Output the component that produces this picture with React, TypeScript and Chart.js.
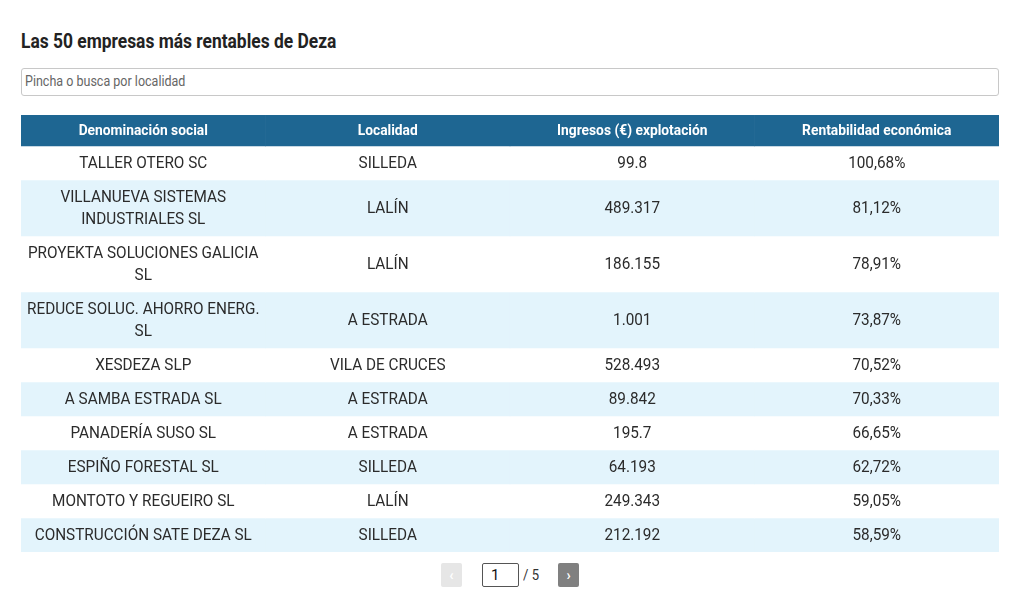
import React, { useEffect, useRef } from "react";
import { Chart, registerables } from "chart.js";

Chart.register(...registerables);

const TITLE = "Las 50 empresas más rentables de Deza";
const PLACEHOLDER = "Pincha o busca por localidad";
const COLUMNS = ["Denominación social", "Localidad", "Ingresos (€) explotación", "Rentabilidad económica"];
const EMPRESAS = [
  "TALLER OTERO SC",
  "VILLANUEVA SISTEMAS INDUSTRIALES SL",
  "PROYEKTA SOLUCIONES GALICIA SL",
  "REDUCE SOLUC. AHORRO ENERG. SL",
  "XESDEZA SLP",
  "A SAMBA ESTRADA SL",
  "PANADERÍA SUSO SL",
  "ESPIÑO FORESTAL SL",
  "MONTOTO Y REGUEIRO SL",
  "CONSTRUCCIÓN SATE DEZA SL",
];
const LOCALIDADES = ["SILLEDA", "LALÍN", "LALÍN", "A ESTRADA", "VILA DE CRUCES", "A ESTRADA", "A ESTRADA", "SILLEDA", "LALÍN", "SILLEDA"];
const INGRESOS = ["99.8", "489.317", "186.155", "1.001", "528.493", "89.842", "195.7", "64.193", "249.343", "212.192"];
const RENTABILIDAD = [100.68, 81.12, 78.91, 73.87, 70.52, 70.33, 66.65, 62.72, 59.05, 58.59];
const PAGE = 1;
const PAGES = 5;

const HEADER_BG = "#1e6692";
const ROW_ALT = "#e3f4fc";
const ROW_BG = "#ffffff";
const TEXT = "#2b2b2b";
const SQUEEZE = 0.87;
const BODY_SQUEEZE = 0.9;
const HEAD_SQUEEZE = 0.92;
const BODY_FONT = "17px Roboto";
const HEAD_FONT = "bold 15px Roboto";
const LINE_H = 22;
const CELL_PAD = 12;
const HEAD_H = 31;
const CELL_MAX_W = 238;
const TEXT_NUDGE = 1;

const fmtPct = (v: number) => v.toFixed(2).replace(".", ",") + "%";

function wrap(ctx: CanvasRenderingContext2D, text: string, font: string, sq: number): string[] {
  ctx.font = font;
  const words = text.split(" ");
  const lines: string[] = [];
  let cur = "";
  for (const w of words) {
    const test = cur ? cur + " " + w : w;
    if (cur && ctx.measureText(test).width * sq > CELL_MAX_W) {
      lines.push(cur);
      cur = w;
    } else cur = test;
  }
  if (cur) lines.push(cur);
  return lines;
}

export default function App() {
  const ref = useRef<HTMLCanvasElement | null>(null);

  useEffect(() => {
    if (!ref.current) return;
    const mctx = document.createElement("canvas").getContext("2d")!;
    const rows: string[][] = EMPRESAS.map((e, i) => [e, LOCALIDADES[i], INGRESOS[i], fmtPct(RENTABILIDAD[i])]);
    const cellLines: string[][][] = [COLUMNS.map((c) => wrap(mctx, c, HEAD_FONT, HEAD_SQUEEZE))].concat(
      rows.map((r) => r.map((c) => wrap(mctx, c, BODY_FONT, BODY_SQUEEZE)))
    );
    const heights = cellLines.map((r, i) =>
      i === 0 ? HEAD_H : Math.max(...r.map((l) => l.length)) * LINE_H + CELL_PAD
    );
    const total = heights.reduce((a, b) => a + b, 0);

    const textPlugin = {
      id: "cellText",
      afterDatasetsDraw(chart: any) {
        const ctx = chart.ctx as CanvasRenderingContext2D;
        chart.data.datasets.forEach((_: any, i: number) => {
          const meta = chart.getDatasetMeta(i);
          meta.data.forEach((el: any, c: number) => {
            const { x, y, base } = el.getProps(["x", "y", "base"], true);
            const cy = (y + base) / 2 + TEXT_NUDGE;
            const lines = cellLines[i][c];
            const sq = i === 0 ? HEAD_SQUEEZE : BODY_SQUEEZE;
            ctx.save();
            ctx.font = i === 0 ? HEAD_FONT : BODY_FONT;
            ctx.fillStyle = i === 0 ? "#ffffff" : TEXT;
            ctx.textAlign = "center";
            ctx.textBaseline = "middle";
            lines.forEach((ln, k) => {
              const ly = cy + (k - (lines.length - 1) / 2) * LINE_H;
              ctx.save();
              ctx.translate(x, ly);
              ctx.scale(sq, 1);
              ctx.fillText(ln, 0, 0);
              ctx.restore();
            });
            ctx.restore();
          });
        });
      },
    };

    const chart = new Chart(ref.current, {
      type: "bar",
      data: {
        labels: COLUMNS,
        datasets: heights.map((h, i) => ({
          label: i === 0 ? "header" : EMPRESAS[i - 1],
          data: COLUMNS.map(() => h),
          backgroundColor: i === 0 ? HEADER_BG : i % 2 === 0 ? ROW_ALT : ROW_BG,
          borderWidth: 0,
          barPercentage: 1,
          categoryPercentage: 1,
          stack: "table",
        })),
      },
      options: {
        animation: false,
        responsive: true,
        maintainAspectRatio: false,
        layout: { padding: 0 },
        events: [],
        scales: {
          x: { display: false, stacked: true },
          y: { display: false, stacked: true, reverse: true, min: 0, max: total },
        },
        plugins: { legend: { display: false }, tooltip: { enabled: false } },
      },
      plugins: [textPlugin],
    });
    return () => chart.destroy();
  }, []);

  const squeeze: React.CSSProperties = {
    display: "inline-block",
    transform: `scaleX(${SQUEEZE})`,
    transformOrigin: "left center",
    whiteSpace: "nowrap",
  };

  return (
    <div style={{ position: "relative", width: 1004, height: 590, fontFamily: "Roboto", color: TEXT }}>
      <div style={{ position: "absolute", left: 13, top: 21, height: 24, lineHeight: "24px", fontSize: 20, fontWeight: 700, color: "#222" }}>
        <span style={squeeze}>{TITLE}</span>
      </div>
      <div
        style={{
          position: "absolute",
          left: 13,
          top: 60,
          width: 978,
          height: 28,
          boxSizing: "border-box",
          border: "1px solid #c8c8c8",
          borderRadius: 3,
          lineHeight: "26px",
          fontSize: 14.4,
          color: "#666",
          paddingLeft: 3,
          overflow: "hidden",
        }}
      >
        <span style={squeeze}>{PLACEHOLDER}</span>
      </div>
      <div style={{ position: "absolute", left: 13, top: 107, width: 978, height: 437 }}>
        <canvas ref={ref} />
      </div>
      <div
        style={{
          position: "absolute",
          left: 433,
          top: 555,
          width: 21,
          height: 24,
          background: "#e6e6e6",
          borderRadius: 2,
          color: "#fff",
          fontSize: 14,
          fontWeight: 700,
          lineHeight: "24px",
          textAlign: "center",
        }}
      >
        ‹
      </div>
      <div
        style={{
          position: "absolute",
          left: 474,
          top: 555,
          width: 37,
          height: 24,
          boxSizing: "border-box",
          border: "1px solid #555",
          borderRadius: 2,
          fontSize: 15,
          lineHeight: "22px",
          paddingLeft: 8,
          color: "#111",
        }}
      >
        {PAGE}
      </div>
      <div style={{ position: "absolute", left: 515, top: 555, height: 24, lineHeight: "24px", fontSize: 15, color: "#333" }}>
        <span style={squeeze}>/ {PAGES}</span>
      </div>
      <div
        style={{
          position: "absolute",
          left: 550,
          top: 555,
          width: 21,
          height: 24,
          background: "#808080",
          borderRadius: 2,
          color: "#fff",
          fontSize: 14,
          fontWeight: 700,
          lineHeight: "24px",
          textAlign: "center",
        }}
      >
        ›
      </div>
    </div>
  );
}
